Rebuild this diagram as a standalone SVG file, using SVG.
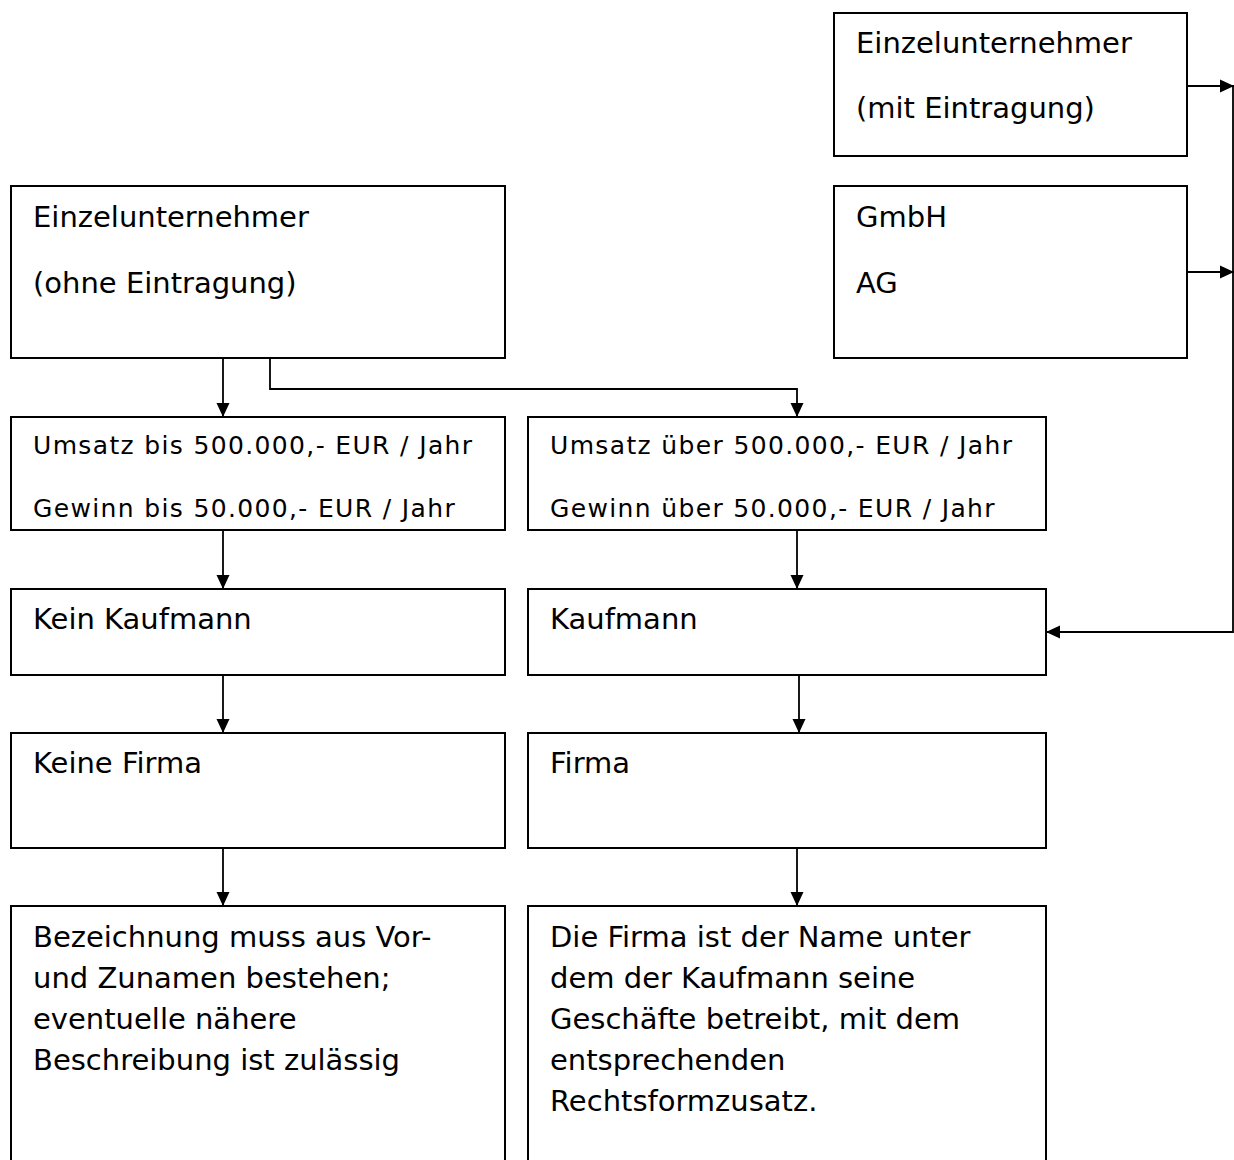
<svg xmlns="http://www.w3.org/2000/svg" width="1234" height="1160" viewBox="0 0 1234 1160">
<style>
.box{fill:#fff;stroke:#000;stroke-width:2}
.t{font-family:"DejaVu Sans","Verdana",sans-serif;font-size:29px;fill:#000}
.s{font-family:"DejaVu Sans","Verdana",sans-serif;font-size:25px;letter-spacing:1.35px;fill:#000}
.c{fill:none;stroke:#000;stroke-width:1.8}
</style>
<defs>
<marker id="ah" markerUnits="userSpaceOnUse" markerWidth="14" markerHeight="14" viewBox="0 0 14 14" refX="14" refY="7" orient="auto">
<path d="M0,0.5 L14,7 L0,13.5 Z" fill="#000"/>
</marker>
</defs>
<rect width="1234" height="1160" fill="#fff"/>
<g id="connectors">
<path class="c" d="M223,358 V417" marker-end="url(#ah)"/>
<path class="c" d="M270,358 V389 H797 V417" marker-end="url(#ah)"/>
<path class="c" d="M223,530 V589" marker-end="url(#ah)"/>
<path class="c" d="M797,527 V589" marker-end="url(#ah)"/>
<path class="c" d="M223,675 V733" marker-end="url(#ah)"/>
<path class="c" d="M799,667 V733" marker-end="url(#ah)"/>
<path class="c" d="M223,848 V906" marker-end="url(#ah)"/>
<path class="c" d="M797,848 V906" marker-end="url(#ah)"/>
<path class="c" d="M1187,86 H1234" stroke-width="3.5" marker-end="url(#ah)"/>
<path class="c" d="M1187,272 H1234" marker-end="url(#ah)"/>
<path class="c" d="M1233,86 V632 H1046" marker-end="url(#ah)"/>
</g>
<g id="n-einzel-mit">
<rect class="box" x="834" y="13" width="353" height="143"/>
<text class="t" x="856" y="53">Einzelunternehmer</text>
<text class="t" x="856" y="118">(mit Eintragung)</text>
</g>
<g id="n-einzel-ohne">
<rect class="box" x="11" y="186" width="494" height="172"/>
<text class="t" x="33" y="227">Einzelunternehmer</text>
<text class="t" x="33" y="293">(ohne Eintragung)</text>
</g>
<g id="n-gmbh-ag">
<rect class="box" x="834" y="186" width="353" height="172"/>
<text class="t" x="856" y="227">GmbH</text>
<text class="t" x="856" y="293">AG</text>
</g>
<g id="n-umsatz-bis">
<rect class="box" x="11" y="417" width="494" height="113"/>
<text class="s" x="33" y="454">Umsatz bis 500.000,- EUR / Jahr</text>
<text class="s" x="33" y="517">Gewinn bis 50.000,- EUR / Jahr</text>
</g>
<g id="n-umsatz-ueber">
<rect class="box" x="528" y="417" width="518" height="113"/>
<text class="s" x="550" y="454">Umsatz über 500.000,- EUR / Jahr</text>
<text class="s" x="550" y="517">Gewinn über 50.000,- EUR / Jahr</text>
</g>
<g id="n-kein-kaufmann">
<rect class="box" x="11" y="589" width="494" height="86"/>
<text class="t" x="33" y="629">Kein Kaufmann</text>
</g>
<g id="n-kaufmann">
<rect class="box" x="528" y="589" width="518" height="86"/>
<text class="t" x="550" y="629">Kaufmann</text>
</g>
<g id="n-keine-firma">
<rect class="box" x="11" y="733" width="494" height="115"/>
<text class="t" x="33" y="773">Keine Firma</text>
</g>
<g id="n-firma">
<rect class="box" x="528" y="733" width="518" height="115"/>
<text class="t" x="550" y="773">Firma</text>
</g>
<g id="n-bezeichnung">
<rect class="box" x="11" y="906" width="494" height="270"/>
<text class="t" x="33" y="947">Bezeichnung muss aus Vor-</text>
<text class="t" x="33" y="988">und Zunamen bestehen;</text>
<text class="t" x="33" y="1029">eventuelle nähere</text>
<text class="t" x="33" y="1070">Beschreibung ist zulässig</text>
</g>
<g id="n-firma-def">
<rect class="box" x="528" y="906" width="518" height="270"/>
<text class="t" x="550" y="947">Die Firma ist der Name unter</text>
<text class="t" x="550" y="988">dem der Kaufmann seine</text>
<text class="t" x="550" y="1029">Geschäfte betreibt, mit dem</text>
<text class="t" x="550" y="1070">entsprechenden</text>
<text class="t" x="550" y="1111">Rechtsformzusatz.</text>
</g>
</svg>
